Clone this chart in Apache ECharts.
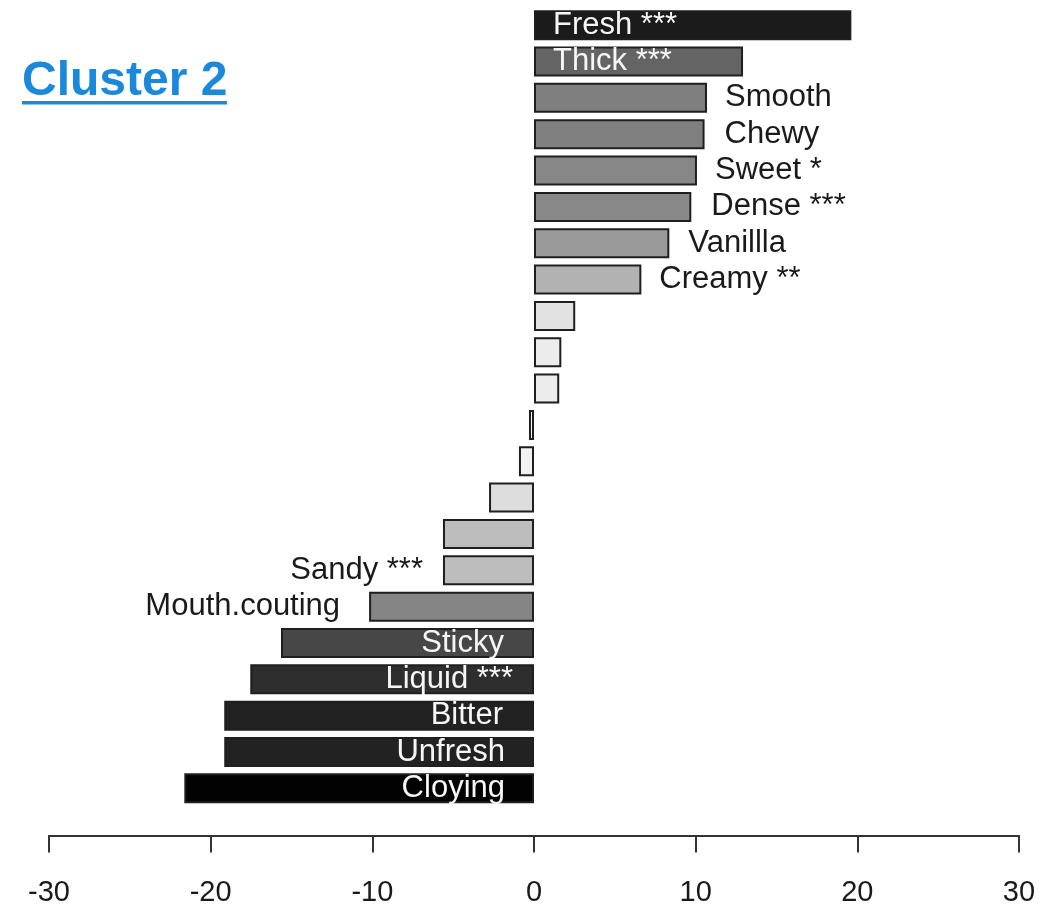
<!DOCTYPE html>
<html>
<head>
<meta charset="utf-8">
<title>Cluster 2</title>
<script src="https://cdn.jsdelivr.net/npm/echarts@6/dist/echarts.min.js"></script>
<style>
  html, body { margin: 0; padding: 0; background: #ffffff; }
  #chart { width: 1063px; height: 909px; }
</style>
</head>
<body>
<div id="chart"></div>
<script>
// Attribute names, top to bottom (blank entries are bars drawn without a name)
const categories = [
  'Fresh ***', 'Thick ***', 'Smooth', 'Chewy', 'Sweet *', 'Dense ***',
  'Vanillla', 'Creamy **', '', '', '', '', '', '', '',
  'Sandy ***', 'Mouth.couting', 'Sticky', 'Liquid ***', 'Bitter', 'Unfresh', 'Cloying'
];

// Bar values (same order as categories)
const values = [
  19.63, 12.93, 10.70, 10.55, 10.08, 9.73,
  8.37, 6.64, 2.55, 1.69, 1.56, -0.31, -0.93, -2.78, -5.63,
  -5.63, -10.20, -15.65, -17.55, -19.16, -19.16, -21.63
];

// Axis ticks
const xTicks = [-30, -20, -10, 0, 10, 20, 30];

// Fill greys for each bar
const fills = [
  '#1b1b1b', '#646464', '#7f7f7f', '#808080', '#878787', '#898989',
  '#9a9a9a', '#b2b2b2', '#e2e2e2', '#ececec', '#ececec', '#f8f8f8', '#f1f1f1', '#dddddd', '#bdbdbd',
  '#bdbdbd', '#858585', '#474747', '#2e2e2e', '#222222', '#222222', '#020202'
];

// Where each name sits relative to its bar, and how far from the edge
const labelPlacement = [
  ['insideLeft', 19], ['insideLeft', 19],
  ['right', 18], ['right', 20], ['right', 18], ['right', 20], ['right', 19], ['right', 18],
  null, null, null, null, null, null, null,
  ['left', 20], ['left', 29],
  ['insideRight', 30], ['insideRight', 21], ['insideRight', 31], ['insideRight', 29], ['insideRight', 29]
];

const fontFamily = '"Liberation Sans", Arial, Helvetica, sans-serif';

const seriesData = values.map(function (v, i) {
  const place = labelPlacement[i];
  const item = {
    value: v,
    itemStyle: { color: fills[i] }
  };
  if (place && categories[i]) {
    const inside = place[0].indexOf('inside') === 0;
    item.label = {
      show: true,
      position: place[0],
      distance: place[1],
      formatter: categories[i],
      color: inside ? '#f6f6f6' : '#1a1a1a',
      fontSize: 31,
      fontFamily: fontFamily
    };
  } else {
    item.label = { show: false };
  }
  return item;
});

const chart = echarts.init(document.getElementById('chart'), null, { renderer: 'canvas' });

chart.setOption({
  animation: false,
  backgroundColor: '#ffffff',
  grid: {
    left: 49,
    right: 44,
    top: 7,
    bottom: 102.5,
    containLabel: false
  },
  xAxis: {
    type: 'value',
    position: 'bottom',
    min: xTicks[0],
    max: xTicks[xTicks.length - 1],
    interval: 10,
    offset: 29,
    splitLine: { show: false },
    axisLine: { show: true, lineStyle: { color: '#333333', width: 2 } },
    axisTick: { show: true, inside: false, length: 17, lineStyle: { color: '#333333', width: 2 } },
    axisLabel: {
      margin: 43,
      color: '#1a1a1a',
      fontSize: 29,
      fontFamily: fontFamily,
      formatter: function (v) { return xTicks.indexOf(v) >= 0 ? String(v) : ''; }
    }
  },
  yAxis: {
    type: 'category',
    inverse: true,
    data: categories.map(function (c, i) { return i; }),
    show: false
  },
  series: [{
    type: 'bar',
    data: seriesData,
    barWidth: 30,
    itemStyle: { borderColor: '#1f1f1f', borderWidth: 2 }
  }],
  graphic: [
    {
      type: 'text',
      left: 22,
      top: 58,
      style: {
        text: 'Cluster 2',
        fill: '#1a89dc',
        font: 'bold 48px ' + fontFamily
      }
    },
    {
      type: 'rect',
      left: 22,
      top: 101,
      shape: { width: 205, height: 3.5 },
      style: { fill: '#1a89dc' }
    }
  ]
});
</script>
</body>
</html>
